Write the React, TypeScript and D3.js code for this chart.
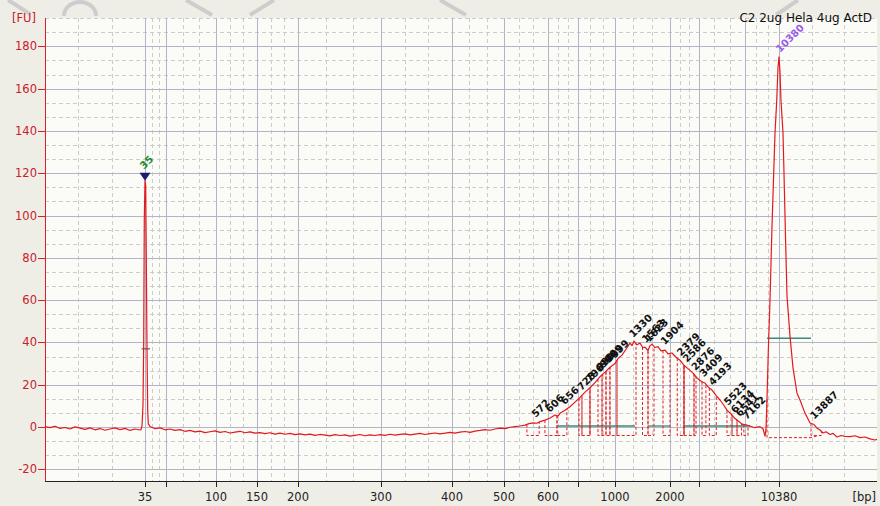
import React, { useEffect, useRef } from 'react';
import * as d3 from 'd3';

// ladder: size (bp) and migration time (s)
const ladderBp = [35, 50, 100, 150, 200, 300, 400, 500, 600, 700, 1000, 2000, 3000, 7000, 10380];
const ladderTime = [43.0, 45.1, 50.1, 54.2, 58.3, 66.6, 73.7, 78.9, 83.3, 86.3, 90.0, 95.5, 98.4, 103.0, 106.4];
const labeledTicks = [35, 100, 150, 200, 300, 400, 500, 600, 1000, 2000, 10380];
const yTicks = [-20, 0, 20, 40, 60, 80, 100, 120, 140, 160, 180];

// electropherogram trace: [time s, FU]
const trace: [number, number][] = [
  [33.0, 0.2], [33.5, -0.3], [34.0, 0.4], [34.5, -0.6], [35.0, -0.2], [35.5, -0.9], [36.0, 0.1], [36.5, -0.5],
  [37.0, -1.1], [37.5, -0.4], [38.0, -1.3], [38.5, -0.7], [39.0, -1.5], [39.5, -0.9], [40.0, -0.4], [40.5, -1.2],
  [41.0, -0.6], [41.5, -1.6], [42.0, -0.9], [42.5, -1.4],
  [42.6, -1.2], [42.7, 0.5], [42.8, 10.5], [42.87, 40], [42.93, 98], [43.0, 116.5], [43.07, 114], [43.13, 80],
  [43.2, 37], [43.27, 8], [43.33, 1.5], [43.5, 0.3],
  [44.0, -0.8], [44.5, -0.4], [45.0, -1.3], [45.5, -0.9], [46.0, -1.6], [46.5, -1.2], [47.0, -2.0], [47.5, -1.6],
  [48.0, -2.3], [48.5, -1.9], [49.0, -2.6], [49.5, -2.2], [50.0, -1.8], [50.5, -2.5], [51.0, -2.1], [51.5, -2.8],
  [52.0, -2.4], [52.5, -2.0], [53.0, -2.7], [53.5, -2.3], [54.0, -2.9], [54.5, -2.6], [55.0, -3.1], [55.5, -2.7],
  [56.0, -3.3], [56.5, -2.9], [57.0, -3.4], [57.5, -3.0], [58.0, -3.6], [58.5, -3.2], [59.0, -3.7], [59.5, -3.3],
  [60.0, -3.9], [60.5, -3.5], [61.0, -3.8], [61.5, -4.2], [62.0, -3.6], [62.5, -4.0], [63.0, -3.7], [63.5, -4.3],
  [64.0, -3.9], [64.5, -3.5], [65.0, -4.1], [65.5, -3.7], [66.0, -4.0], [66.5, -3.6], [67.0, -3.9], [67.5, -3.4],
  [68.0, -3.8], [68.5, -3.5], [69.0, -3.2], [69.5, -3.7], [70.0, -3.3], [70.5, -3.0], [71.0, -3.5], [71.5, -3.1],
  [72.0, -2.8], [72.5, -3.2], [73.0, -2.9], [73.5, -2.5], [74.0, -2.9], [74.5, -2.4], [75.0, -2.1], [75.5, -2.5],
  [76.0, -1.9], [76.5, -1.6], [77.0, -1.2], [77.5, -1.5], [78.0, -0.9], [78.5, -0.5], [79.0, -0.7], [79.5, -0.1],
  [80.0, 0.2], [80.5, 0.5], [81.0, 0.9], [81.4, 1.6], [81.8, 2.0], [82.2, 1.8], [82.5, 2.6], [83.0, 3.3],
  [83.5, 4.3], [84.0, 5.7], [84.3, 5.2], [84.5, 6.5], [85.0, 8.0], [85.5, 9.6], [86.0, 11.8], [86.5, 14.0],
  [87.0, 16.5], [87.5, 18.6], [88.0, 21.0], [88.5, 23.8], [89.0, 26.0], [89.5, 28.3], [90.0, 30.0], [90.3, 32.4],
  [90.7, 34.0], [91.1, 36.8], [91.5, 39.7], [91.7, 38.5], [91.9, 40.6], [92.2, 38.9], [92.5, 39.7], [92.8, 37.5],
  [93.0, 37.8], [93.3, 36.2], [93.5, 38.4], [93.7, 39.2], [94.0, 37.6], [94.3, 38.0], [94.6, 36.0], [95.0, 36.4],
  [95.3, 34.6], [95.7, 35.0], [96.1, 33.0], [96.5, 31.6], [96.9, 29.2], [97.2, 28.0], [97.5, 26.8], [97.8, 25.5],
  [98.2, 23.2], [98.5, 22.0], [98.8, 21.2], [99.0, 20.8], [99.3, 19.0], [99.7, 17.5], [100.1, 15.0], [100.5, 12.8],
  [100.9, 10.2], [101.2, 8.0], [101.6, 6.2], [102.0, 4.0], [102.3, 3.0], [102.7, 1.4], [103.1, 1.0], [103.5, 0.5],
  [104.0, -0.3], [104.5, 0.2], [104.8, -0.8], [105.0, -4.3],
  [105.1, -1], [105.2, 13], [105.33, 36], [105.5, 60], [105.7, 95], [106.0, 139], [106.17, 154], [106.3, 170],
  [106.4, 175], [106.5, 168], [106.6, 154], [106.8, 139], [106.9, 120], [107.05, 90], [107.2, 62], [107.5, 43],
  [107.8, 28], [108.2, 16], [108.5, 12.8], [109.0, 6.6], [109.5, 1.9], [109.9, 1.2], [110.2, -0.5], [110.5, -1.4],
  [110.8, -2.8], [111.1, -2.2], [111.5, -3.5], [111.8, -3.0], [112.2, -4.7], [112.6, -4.0], [113.0, -4.4],
  [113.5, -4.5], [114.0, -4.1], [114.5, -5.0], [115.0, -4.7], [115.5, -5.6], [116.0, -6.1], [116.2, -5.8],
];

// called peaks (bp) with integration windows
const peakBp = [572, 606, 656, 728, 796, 880, 909, 949, 999, 1330, 1563, 1623, 1904, 2379, 2586, 2876, 3409, 4193, 5523, 6134, 6541, 7162, 13887];
const peakStart = [552, 593, 630, 708, 732, 862, 895, 927, 959, 1036, 1500, 1600, 1873, 2250, 2483, 2828, 3261, 3900, 5436, 5871, 6306, 6900, 13560];
const peakEnd = [580, 630, 663, 732, 797, 895, 927, 959, 1036, 1382, 1600, 1709, 2000, 2483, 2828, 2897, 3600, 4500, 5871, 6306, 6700, 7300, 14600];
const solidBp = [797, 2483];
const peakBaseFU = -4;

// markers
const markerBp = [35, 10380];
const markerStart = [32.6, 9187];
const markerEnd = [38.6, 13560];
const markerBarFU = [37, 42];

// smear regions
const regionFrom = [630, 1600, 2448];
const regionTo = [1364, 2000, 7500];
const regionFU = 0.5;

const title = 'C2 2ug Hela 4ug ActD';

const W = 880;
const H = 506;
const L = 45, R = 877, T = 18, B = 481;
const FONT = '"DejaVu Sans", Verdana, sans-serif';

const App = () => {
  const ref = useRef<SVGSVGElement>(null);

  useEffect(() => {
    const svg = d3.select(ref.current);
    svg.selectAll('*').remove();

    const x = d3.scaleLinear().domain([33, 116.2]).range([L, R]);
    const y = d3.scaleLinear().domain([-25.5, 193.4]).range([B, T]);
    const bpToTime = d3.scaleLinear().domain(ladderBp).range(ladderTime);

    const bis = d3.bisector((d: [number, number]) => d[0]).left;
    const fuAt = (t: number) => {
      const i = Math.max(1, Math.min(trace.length - 1, bis(trace, t)));
      const a = trace[i - 1], b = trace[i];
      return a[1] + ((t - a[0]) / (b[0] - a[0])) * (b[1] - a[1]);
    };

    // backgrounds
    svg.append('rect').attr('width', W).attr('height', H).attr('fill', '#efeee6');

    // faint watermark strokes at the top
    const wm = svg.append('g').attr('stroke', '#cdcdcd').attr('stroke-width', 4).attr('fill', 'none');
    wm.append('path').attr('d', 'M8,0 L30,14');
    wm.append('path').attr('d', 'M64,16 A16,14 0 0 1 96,16');
    wm.append('path').attr('d', 'M186,0 L212,15');
    wm.append('path').attr('d', 'M250,15 L274,0');
    wm.append('path').attr('d', 'M440,0 L466,15');
    wm.append('path').attr('d', 'M776,15 L798,0');

    svg.append('rect').attr('x', L).attr('y', T).attr('width', R - L).attr('height', B - T).attr('fill', '#fbfbf7');

    const grid = svg.append('g');
    // minor vertical grid: thirds of each ladder interval
    const edges = [33, ...ladderTime, 116.2];
    const minorX: number[] = [];
    for (let i = 0; i < edges.length - 1; i++) {
      const a = edges[i], b = edges[i + 1];
      minorX.push(a + (b - a) / 3, a + (2 * (b - a)) / 3);
    }
    grid.selectAll('line.mx').data(minorX).enter().append('line')
      .attr('x1', d => Math.round(x(d)) + 0.5).attr('x2', d => Math.round(x(d)) + 0.5)
      .attr('y1', T).attr('y2', B)
      .attr('stroke', '#cccccc').attr('stroke-dasharray', '4,3');

    const minorY: number[] = [];
    for (let k = -4; k <= 29; k++) {
      if (k % 3 === 0) continue;
      const v = (k * 20) / 3;
      if (v > -25.5 && v < 193.4) minorY.push(v);
    }
    grid.selectAll('line.my').data(minorY).enter().append('line')
      .attr('x1', L).attr('x2', R)
      .attr('y1', d => Math.round(y(d)) + 0.5).attr('y2', d => Math.round(y(d)) + 0.5)
      .attr('stroke', '#cccccc').attr('stroke-dasharray', '4,3');

    grid.selectAll('line.vx').data(ladderTime).enter().append('line')
      .attr('x1', d => Math.round(x(d)) + 0.5).attr('x2', d => Math.round(x(d)) + 0.5)
      .attr('y1', T).attr('y2', B)
      .attr('stroke', '#b3b5c6');
    grid.selectAll('line.vy').data(yTicks).enter().append('line')
      .attr('x1', L).attr('x2', R)
      .attr('y1', d => Math.round(y(d)) + 0.5).attr('y2', d => Math.round(y(d)) + 0.5)
      .attr('stroke', '#b3b5c6');

    // smear region bars
    svg.selectAll('line.region').data(regionFrom).enter().append('line')
      .attr('x1', d => x(bpToTime(d)))
      .attr('x2', (d, i) => x(bpToTime(regionTo[i])))
      .attr('y1', y(regionFU)).attr('y2', y(regionFU))
      .attr('stroke', '#3a8c7a').attr('stroke-width', 1.3);

    // integration windows of called peaks
    const pk = svg.append('g').attr('fill', 'none').attr('stroke', '#e0202a').attr('stroke-width', 1);
    peakBp.forEach((_, i) => {
      const ts = bpToTime(peakStart[i]);
      const te = bpToTime(peakEnd[i]);
      const yb = y(peakBaseFU);
      pk.append('path')
        .attr('d', `M${x(ts)},${y(fuAt(ts))} V${yb} H${x(te)} V${y(fuAt(te))}`)
        .attr('stroke-dasharray', '3,2');
    });
    solidBp.forEach(bp => {
      const t = bpToTime(bp);
      pk.append('line').attr('x1', x(t)).attr('x2', x(t)).attr('y1', y(fuAt(t))).attr('y2', y(peakBaseFU));
    });
    // upper marker window
    {
      const ts = bpToTime(markerStart[1]);
      const te = bpToTime(markerEnd[1]);
      pk.append('path')
        .attr('d', `M${x(ts)},${y(fuAt(ts))} V${y(-5)} H${x(te)} L${x(te) + 6},${y(-4.2)}`)
        .attr('stroke-dasharray', '3,2');
    }

    // marker bars
    markerBp.forEach((_, i) => {
      svg.append('line')
        .attr('x1', x(bpToTime(markerStart[i]))).attr('x2', x(bpToTime(markerEnd[i])))
        .attr('y1', y(markerBarFU[i])).attr('y2', y(markerBarFU[i]))
        .attr('stroke', i === 0 ? '#666' : '#3a8c7a').attr('stroke-width', 1.3);
    });

    // trace
    const line = d3.line<[number, number]>().x(d => x(d[0])).y(d => y(d[1]));
    svg.append('path').datum(trace).attr('d', line).attr('fill', 'none')
      .attr('stroke', '#e3191f').attr('stroke-width', 1.2).attr('stroke-linejoin', 'round');

    // peak labels
    svg.selectAll('text.peak').data(peakBp).enter().append('text')
      .attr('transform', d => {
        const t = bpToTime(d);
        return `translate(${x(t)},${y(fuAt(t)) - 5}) rotate(-45)`;
      })
      .attr('font-family', FONT).attr('font-size', 10).attr('font-weight', 'bold').attr('fill', '#111')
      .text(d => d);

    // markers
    const t35 = bpToTime(markerBp[0]);
    const px35 = x(t35), py35 = y(fuAt(t35));
    svg.append('path')
      .attr('d', `M${px35 - 5.5},${py35 - 8} L${px35 + 5.5},${py35 - 8} L${px35},${py35} Z`)
      .attr('fill', '#1c1c70');
    svg.append('text')
      .attr('transform', `translate(${px35 - 1},${py35 - 11}) rotate(-45)`)
      .attr('font-family', FONT).attr('font-size', 10).attr('font-weight', 'bold').attr('fill', '#1f8a2a')
      .text(markerBp[0]);
    const tUp = bpToTime(markerBp[1]);
    svg.append('text')
      .attr('transform', `translate(${x(tUp) + 1},${y(fuAt(tUp)) - 4}) rotate(-45)`)
      .attr('font-family', FONT).attr('font-size', 10).attr('font-weight', 'bold').attr('fill', '#9a5be8')
      .text(markerBp[1]);

    // y axis
    const ya = svg.append('g');
    ya.append('line').attr('x1', L + 0.5).attr('x2', L + 0.5).attr('y1', T).attr('y2', B).attr('stroke', '#d8202a');
    ya.selectAll('line.t').data(yTicks).enter().append('line')
      .attr('x1', L - 7).attr('x2', L).attr('y1', d => Math.round(y(d)) + 0.5).attr('y2', d => Math.round(y(d)) + 0.5)
      .attr('stroke', '#d8202a');
    ya.selectAll('text').data(yTicks).enter().append('text')
      .attr('x', L - 8).attr('y', d => y(d) + 4).attr('text-anchor', 'end')
      .attr('font-family', FONT).attr('font-size', 11.5).attr('fill', '#c8202a')
      .text(d => d);
    svg.append('text').attr('x', 12).attr('y', 22)
      .attr('font-family', FONT).attr('font-size', 11.5).attr('fill', '#c8202a').text('[FU]');

    // x axis
    const xa = svg.append('g');
    xa.append('line').attr('x1', L).attr('x2', R).attr('y1', B + 0.5).attr('y2', B + 0.5).attr('stroke', '#222');
    xa.selectAll('line.t').data(ladderTime).enter().append('line')
      .attr('x1', d => Math.round(x(d)) + 0.5).attr('x2', d => Math.round(x(d)) + 0.5)
      .attr('y1', B).attr('y2', B + 6).attr('stroke', '#222');
    xa.selectAll('text').data(labeledTicks).enter().append('text')
      .attr('x', d => x(bpToTime(d))).attr('y', B + 20).attr('text-anchor', 'middle')
      .attr('font-family', FONT).attr('font-size', 11.5).attr('fill', '#222')
      .text(d => d);
    svg.append('text').attr('x', 876).attr('y', B + 20).attr('text-anchor', 'end')
      .attr('font-family', FONT).attr('font-size', 11.5).attr('fill', '#222').text('[bp]');

    // sample name
    svg.append('text').attr('x', 872).attr('y', 22).attr('text-anchor', 'end')
      .attr('font-family', FONT).attr('font-size', 12).attr('fill', '#111').text(title);
  }, []);

  return (
    <svg ref={ref} width={W} height={H} style={{ position: 'absolute', left: 0, top: 0 }}></svg>
  );
};

export default App;
